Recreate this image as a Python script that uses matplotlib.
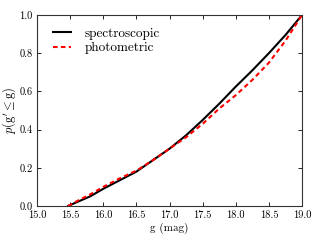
import matplotlib
matplotlib.use("Agg")
import matplotlib.pyplot as plt

plt.rcParams['font.family'] = 'serif'
plt.rcParams['font.serif'] = ['cmr10', 'DejaVu Serif']
plt.rcParams['mathtext.fontset'] = 'cm'
plt.rcParams['axes.formatter.use_mathtext'] = True

g_spec = [15.47, 15.6, 15.8, 16.0, 16.25, 16.5, 16.75, 17.0, 17.25, 17.5, 17.75, 18.0, 18.25, 18.5, 18.75, 19.0]
p_spec = [0.0, 0.02, 0.05, 0.09, 0.135, 0.18, 0.24, 0.30, 0.37, 0.45, 0.535, 0.625, 0.71, 0.80, 0.895, 1.0]

g_phot = [15.47, 15.6, 15.8, 16.0, 16.25, 16.5, 16.75, 17.0, 17.25, 17.5, 17.75, 18.0, 18.25, 18.5, 18.75, 19.0]
p_phot = [0.0, 0.025, 0.06, 0.10, 0.145, 0.185, 0.24, 0.30, 0.36, 0.43, 0.51, 0.58, 0.66, 0.75, 0.865, 1.0]

xticks = [15.0, 15.5, 16.0, 16.5, 17.0, 17.5, 18.0, 18.5, 19.0]
yticks = [0.0, 0.2, 0.4, 0.6, 0.8, 1.0]

fig = plt.figure(figsize=(3.2, 2.4), dpi=100)
ax = fig.add_axes([37/320, 1-206/240, (302-37)/320, (206-15)/240])

ax.plot(g_spec, p_spec, color='black', lw=1.5, label='spectroscopic')
ax.plot(g_phot, p_phot, color='red', lw=1.5, ls='--', dashes=(2.2, 1.6),
        label='photometric')

ax.set_xlim(15.0, 19.0)
ax.set_ylim(0.0, 1.0)
ax.set_xticks(xticks)
ax.set_yticks(yticks)
ax.set_xticklabels(['%.1f' % v for v in xticks])
ax.set_yticklabels(['%.1f' % v for v in yticks])
ax.tick_params(direction='in', top=True, right=True, length=3, width=0.6,
               labelsize=7.5, pad=3)
for s in ax.spines.values():
    s.set_linewidth(0.8)
    s.set_color('#333333')

ax.set_xlabel('g (mag)', fontsize=8, labelpad=2)
ax.set_ylabel(r'$p(\mathrm{g}^\prime \leq \mathrm{g})$', fontsize=9, labelpad=1)

leg = ax.legend(loc='upper left', frameon=False, fontsize=9.5,
                handlelength=1.4, handletextpad=1.0, labelspacing=0.15,
                borderaxespad=0.8, bbox_to_anchor=(0.0, 1.0 + 3/191))

fig.savefig('out.png', dpi=100)
